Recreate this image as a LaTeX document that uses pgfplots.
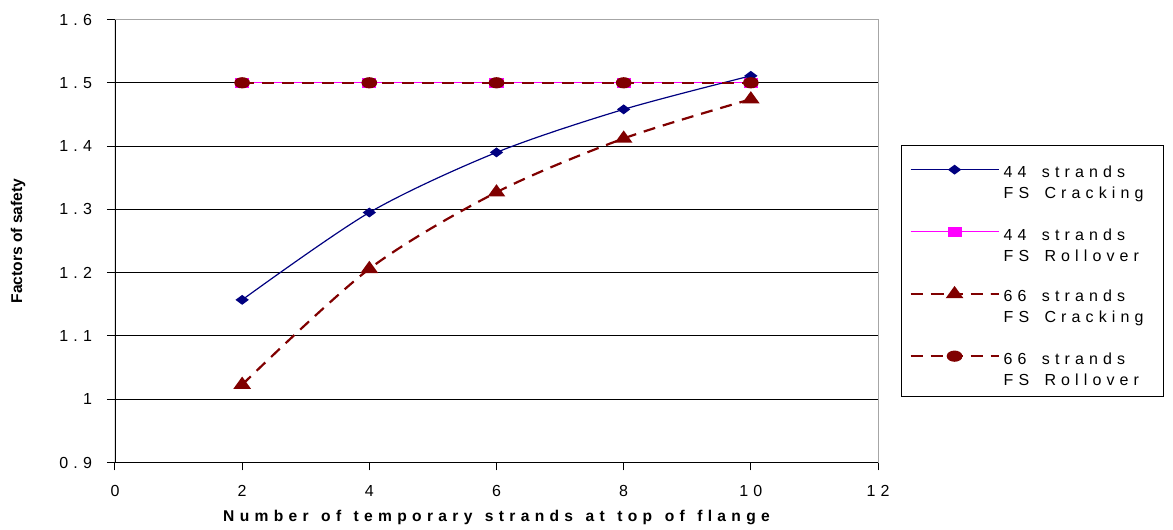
\documentclass[border=0pt]{standalone}
\usepackage{fontspec}
\setmainfont{Liberation Sans}[LetterSpace=32, WordSpace=1.6]
\newfontfamily\plainsans{Liberation Sans}
\newfontfamily\xlabfont{Liberation Sans}[LetterSpace=34, WordSpace=1.3]
\usepackage{pgfplots}
\pgfplotsset{compat=1.18}
\definecolor{navyb}{RGB}{0,0,128}
\definecolor{darkr}{RGB}{128,0,0}
\definecolor{magen}{RGB}{255,0,255}

\begin{document}
\begin{tikzpicture}
\begin{axis}[
    at={(0,0)}, anchor=south west,
    scale only axis,
    width=381.5pt, height=221.5pt,
    xmin=0, xmax=12, ymin=0.9, ymax=1.6,
    xtick={0,2,...,12},
    ytick={0.9,1.0,...,1.6},
    yticklabels={0.9,1,1.1,1.2,1.3,1.4,1.5,1.6},
    ymajorgrids,
    grid style={black, line width=0.5pt},
    axis line style={draw=gray!70},
    tick align=outside,
    major tick length=4pt,
    tick style={black, line width=0.5pt},
    xtick pos=bottom, ytick pos=left,
    /pgf/number format/assume math mode=true,
    ticklabel style={font=\fontsize{8}{9.6}\selectfont},
    yticklabel style={xshift=-4pt},
    xticklabel style={yshift=-4pt},
    xlabel={\xlabfont\bfseries Number of temporary strands at top of flange},
    ylabel={\plainsans\bfseries Factors of safety},
    label style={font=\fontsize{7.8}{9}\selectfont},
    xlabel style={at={(axis description cs:0.5,-0.124)}, anchor=center},
    ylabel style={at={(axis description cs:-0.127,0.5)}, anchor=center, rotate=0},
    legend style={
        at={(axis description cs:1.0301,0.7156)}, anchor=north west,
        draw=black, line width=0.5pt,
        font=\fontsize{8}{10.5}\selectfont,
        cells={anchor=west},
        row sep=15pt, inner ysep=8pt, inner xsep=4pt,
    },
    legend image code/.code={
        \draw[mark repeat=2, mark phase=2, yshift=4.4pt]
            plot coordinates {(0pt,0pt) (22pt,0pt) (44pt,0pt)};
    },
]

\addplot[navyb, line width=0.6pt, smooth, mark=diamond*,
    mark size=2.8pt, mark options={solid, fill=navyb, xscale=1.35, yscale=0.75}]
coordinates {(2,1.157) (4,1.295) (6,1.390) (8,1.458) (10,1.511)};
\addlegendentry{\parbox{74pt}{44 strands\\FS Cracking}}

\addplot[magen, line width=0.6pt, mark=square*,
    mark size=2.3pt, mark options={solid, fill=magen, xscale=1.4, yscale=0.9}]
coordinates {(2,1.5) (4,1.5) (6,1.5) (8,1.5) (10,1.5)};
\addlegendentry{\parbox{74pt}{44 strands\\FS Rollover}}

\addplot[darkr, line width=1.1pt, smooth, dash pattern=on 6pt off 4pt,
    mark=triangle*, mark size=3.1pt, mark options={solid, fill=darkr, xscale=1.25}]
coordinates {(2,1.023) (4,1.206) (6,1.327) (8,1.412) (10,1.474)};
\addlegendentry{\parbox{74pt}{66 strands\\FS Cracking}}

\addplot[darkr, line width=1.1pt, dash pattern=on 6pt off 4pt,
    mark=*, mark size=2.25pt, mark options={solid, fill=darkr, xscale=1.5}]
coordinates {(2,1.5) (4,1.5) (6,1.5) (8,1.5) (10,1.5)};
\addlegendentry{\parbox{74pt}{66 strands\\FS Rollover}}

\draw[black, line width=0.6pt] (rel axis cs:0,0) -- (rel axis cs:0,1);
\draw[black, line width=0.6pt] (rel axis cs:0,0) -- (rel axis cs:1,0);
\end{axis}
\pgfresetboundingbox
\path (current axis.south west) ++(-57.5pt,-33.5pt) coordinate (bl);
\path (current axis.north east) ++(147.5pt,9.75pt) coordinate (tr);
\useasboundingbox (bl) rectangle (tr);
\end{tikzpicture}
\end{document}
